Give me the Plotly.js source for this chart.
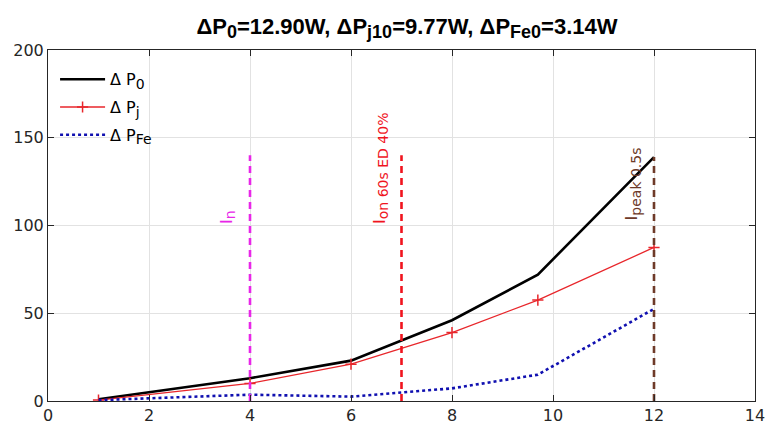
<!DOCTYPE html>
<html>
<head>
<meta charset="utf-8">
<script src="https://cdn.plot.ly/plotly-3.0.1.min.js"></script>
<style>html,body{margin:0;padding:0;background:#fff;}#chart{width:765px;height:430px;}</style>
</head>
<body>
<div id="chart"></div>
<script>
// Data
const xVals = [1, 4, 6, 8, 9.7, 12];
const dP0 = [1, 13, 23, 46, 72, 139];
const dPj = [0.5, 10, 21, 39, 57.5, 87.5];
const dPFe = [0.5, 3.6, 2.5, 7.2, 15, 52.5];
const seriesNames = ['Δ P<sub><span style="font-size:14px">0</span></sub>',
                     'Δ P<sub><span style="font-size:14px">j</span></sub>',
                     'Δ P<sub><span style="font-size:14px">Fe</span></sub>'];

const markerX = [4, 7, 12];
const markerTop = [140, 140, 139];
const markerColors = ['#e826e8', '#f0141e', '#6e3a28'];
const markerLabels = ['I<sub><span style="font-size:14px">n</span></sub>',
                      'I<sub><span style="font-size:14px">on 60s ED 40%</span></sub>',
                      'I<sub><span style="font-size:14px">peak 0.5s</span></sub>'];
const labelX = [3.8, 6.82, 11.83];
const labelY = [100, 100, 102];

const titleText = 'ΔP<sub><span style="font-size:18px">0</span></sub>=12.90W, ΔP<sub><span style="font-size:18px">j10</span></sub>=9.77W, ΔP<sub><span style="font-size:18px">Fe0</span></sub>=3.14W';

const traces = [
  {x: xVals, y: dP0, name: seriesNames[0], mode: 'lines', legendgroup: 'a',
   line: {color: '#000000', width: 2.6}},
  {x: xVals, y: dPj, name: seriesNames[1], mode: 'lines+markers', legendgroup: 'b',
   line: {color: '#e8262b', width: 1.3},
   marker: {symbol: 'cross-thin', size: 8, line: {color: '#e8262b', width: 1.5}}},
  {x: xVals, y: dPFe, name: seriesNames[2], mode: 'lines', legendgroup: 'c',
   line: {color: '#1010b0', width: 2.6, dash: 'dot'}}
];
markerX.forEach((xv, i) => {
  traces.push({x: [xv, xv], y: [0, markerTop[i]], mode: 'lines', showlegend: false,
    hoverinfo: 'skip', line: {color: markerColors[i], width: 2.6, dash: '7px,5px'}});
});

const annotations = markerX.map((xv, i) => ({
  x: labelX[i], y: labelY[i], xref: 'x', yref: 'y', text: markerLabels[i],
  showarrow: false, textangle: -90, xanchor: 'right', yanchor: 'bottom',
  font: {family: 'DejaVu Sans, Liberation Sans, Arial, sans-serif', size: 16, color: markerColors[i]}
}));

const axisCommon = {
  showline: true, mirror: 'ticks', linecolor: '#262626', linewidth: 1,
  ticks: 'inside', ticklen: 6, tickcolor: '#262626', ticklabeloverflow: 'allow',
  showgrid: true, gridcolor: '#e2e2e2', gridwidth: 1, zeroline: false,
  tickfont: {family: 'DejaVu Sans, Liberation Sans, Arial, sans-serif', size: 16, color: '#262626'}
};

const layout = {
  width: 765, height: 430,
  margin: {l: 48, r: 10, t: 50, b: 28.5},
  paper_bgcolor: '#ffffff', plot_bgcolor: '#ffffff',
  title: {text: titleText, x: 0.532, xanchor: 'center', y: 0.94, yanchor: 'middle',
    font: {family: 'Liberation Sans, Arial, sans-serif', size: 22, color: '#000000', weight: 'bold'}},
  xaxis: Object.assign({}, axisCommon, {range: [0, 14], tickvals: [0, 2, 4, 6, 8, 10, 12, 14]}),
  yaxis: Object.assign({}, axisCommon, {range: [0, 200], tickvals: [0, 50, 100, 150, 200]}),
  showlegend: true,
  legend: {x: 0.01, y: 0.965, xanchor: 'left', yanchor: 'top', bgcolor: 'rgba(0,0,0,0)',
    borderwidth: 0, traceorder: 'grouped', tracegroupgap: 4, itemwidth: 45,
    font: {family: 'DejaVu Sans, Liberation Sans, Arial, sans-serif', size: 16, color: '#000000'}},
  annotations: annotations
};

Plotly.newPlot('chart', traces, layout, {displayModeBar: false, staticPlot: true});
</script>
</body>
</html>
